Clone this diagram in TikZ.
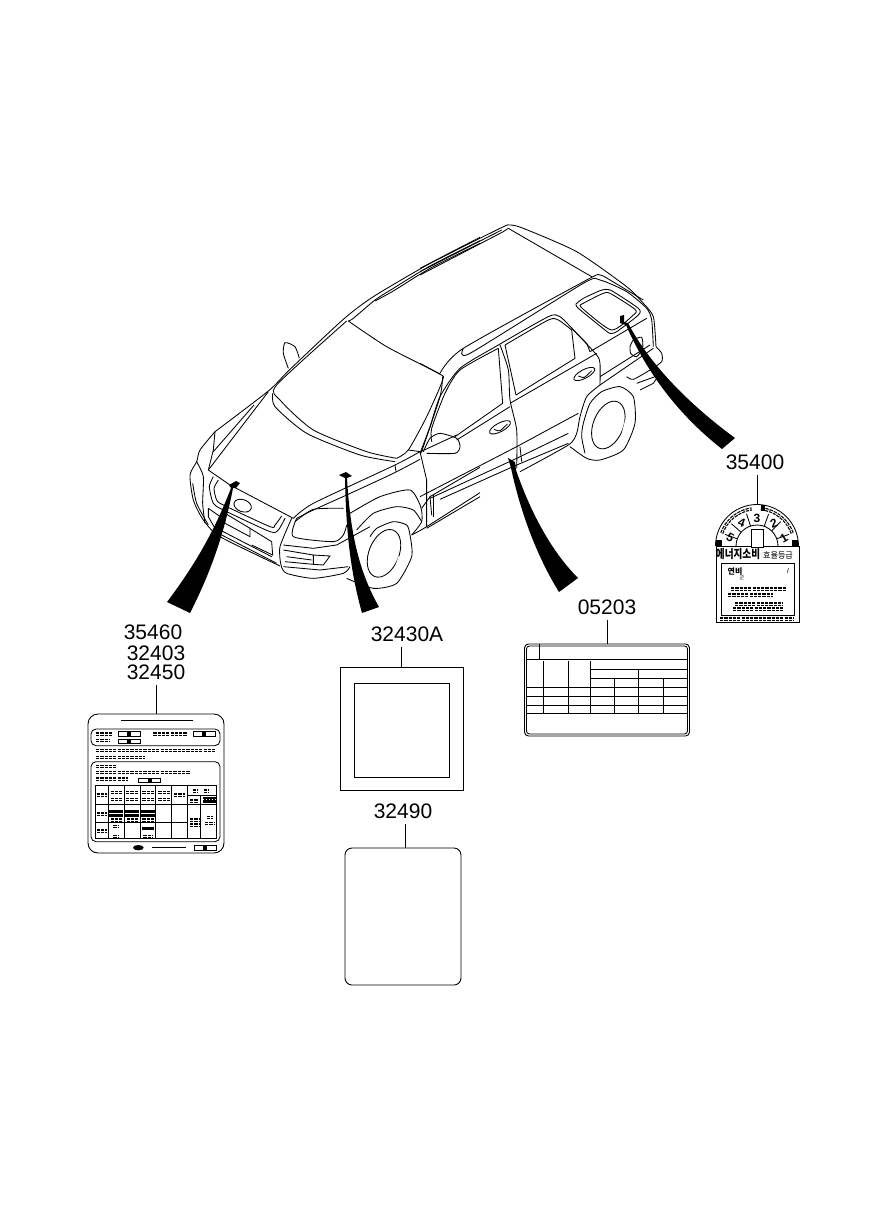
\documentclass[tikz,border=0pt]{standalone}
\usepackage{fontspec}
\setmainfont{Liberation Sans}
\newfontfamily\krfont{Noto Sans CJK KR}
\newcommand{\carline}[1]{\draw plot[smooth,tension=.4] coordinates {#1};}
\tikzset{
  partno/.style={font=\fontsize{21}{21}\selectfont,inner sep=5pt},
  tagbox/.style={draw,inner sep=0pt,line width=.9pt},
  blobs/.style={line width=1.2pt,double=white,double distance=.8pt,dash pattern=on 3.2pt off 1.1pt},
}
\begin{document}
\begin{tikzpicture}[x=1pt,y=-1pt,line width=.85pt]
    \useasboundingbox (0,0) rectangle (886,1211);

    % nodes
    \node[partno] (no35400) at (755,462) {35400};
    \node[partno] (no05203) at (607,607) {05203};
    \node[partno] (no35460) at (153,632) {35460};
    \node[partno] (no32403) at (156,653) {32403};
    \node[partno] (no32450) at (156,672) {32450};
    \node[partno] (no32430a) at (407,634) {32430A};
    \node[partno] (no32490) at (403,811) {32490};

    \node[tagbox,rounded corners=4pt,minimum width=165pt,minimum height=92pt] (tag05203) at (607,690) {};
    \node[draw,rounded corners=3pt,inner sep=0pt,minimum width=161pt,minimum height=88pt] (tag05203in) at (607,690) {};
    \node[tagbox,rounded corners=10pt,minimum width=136pt,minimum height=139pt] (tag32450) at (156,783.5) {};
    \node[tagbox,minimum width=123pt,minimum height=123pt] (tag32430a) at (401.5,728.5) {};
    \node[tagbox,minimum width=95pt,minimum height=94pt] (tag32430in) at (401.5,730) {};
    \node[tagbox,rounded corners=7pt,minimum width=116pt,minimum height=137pt] (tag32490) at (403,916.5) {};
    \coordinate (top35400) at (757,505);
    \coordinate (top32490) at (405,848);

    % edges
    \draw (no05203) -- (tag05203);
    \draw (no32450) -- (tag32450);
    \draw (no32430a.south -| tag32430a.north) -- (tag32430a);
    \draw (no32490.south -| top32490) -- (top32490);
    \draw (no35400.south -| top35400) -- (top35400);

    % front of the car
    \begin{scope}[shift={(180,220)},scale=1/3]
        \carline{(900,52)(750,130)(580,230)(490,298)(330,448)(265,513)(105,635)}
        \carline{(900,62)(750,138)(640,205)(585,240)(520,295)(505,303)}
        \carline{(900,70)(750,145)(640,213)(585,243)}
        % windscreen
        \carline{(505,303)(620,380)(775,460)(788,480)(740,590)(685,690)(650,715)}
        \carline{(500,303)(290,495)(300,540)(400,630)(560,695)(650,715)}
        \carline{(278,520)(285,560)(380,640)(540,705)(645,725)}
        \draw (685,690) -- (722,695);
        \draw (645,735) -- (648,755);
        % mirror
        \carline{(325,445)(310,400)(315,368)(345,380)(358,415)}
        % hood
        \draw (222,555) -- (100,695);
        \draw (265,515) -- (85,750);
        \draw (85,750) -- (150,795) -- (340,895);
        \carline{(340,895)(400,850)(645,735)(720,695)}
        \carline{(350,895)(400,870)(500,825)(640,760)(720,718)}
        % front corner
        \carline{(105,635)(60,690)(50,725)(30,765)(40,840)(70,900)(120,950)(300,1038)}
        \draw (105,635) -- (100,690) -- (85,750);
        \carline{(50,725)(70,770)(68,850)(75,910)}
        \carline{(38,790)(50,850)(85,915)}
        % grille
        \carline{(100,770)(88,800)(100,850)(130,870)(270,935)(295,930)(315,895)}
        \carline{(115,780)(102,805)(110,840)(130,855)(270,920)(285,915)(305,888)}
        \draw[rotate around={-20:(188,857)}] (188,857) ellipse (27 and 18);
        \draw (85,865) -- (85,890) -- (105,925);
        \draw (85,865) -- (135,900);
        \draw (135,880) -- (210,925) -- (210,950) -- (135,910) -- cycle;
        \draw (210,925) -- (275,965) -- (278,1005) -- (215,975);
        \draw (120,930) -- (275,1010);
        \draw (125,945) -- (290,1030);
        % headlight and bumper
        \carline{(350,895)(340,950)(460,965)(490,945)(500,915)}
        \carline{(345,905)(400,868)(490,865)}
        \carline{(335,895)(300,980)(303,1035)(320,1060)(400,1075)(490,1060)(510,1040)}
        \draw (310,975) -- (400,985) -- (470,975) -- (570,920);
        \draw (310,990) -- (400,1005) -- (450,1008) -- (430,1035) -- (400,1033) -- (400,1007);
        \draw (315,1025) -- (400,1033);
        \draw (320,1010) -- (395,1020);
        \draw (310,1040) -- (420,1050) -- (505,1040);
        % arch and front wheel
        \carline{(530,930)(580,880)(650,860)(700,870)(725,905)}
        \carline{(510,880)(600,830)(690,810)(722,860)(725,905)(695,945)}
        \carline{(500,1075)(580,1105)(650,1090)(695,1010)(690,945)(680,915)(640,905)(590,925)(570,950)}
        \draw[rotate around={-22:(612,1000)}] (612,1000) ellipse (45 and 75);
        \draw[white,line width=3pt] (650,1040) -- (660,1010);
        \carline{(695,945)(740,920)(900,818)}
        \carline{(740,925)(900,830)}
        \draw (720,695) -- (740,780) -- (740,920);
        \draw (725,865) -- (750,830) -- (755,885);
        \draw (750,830) -- (900,742);
        \draw (760,825) -- (760,890);
        \draw (722,695) -- (830,645);
    \end{scope}

    % back of the car
    \begin{scope}[shift={(420,220)},scale=1/3]
        \carline{(0,145)(240,25)(270,15)(310,25)(470,95)(620,200)(670,250)(700,290)(708,380)}
        \draw (0,155) -- (245,30);
        \draw (0,165) -- (250,35) -- (265,25) -- (515,170);
        % rail
        \carline{(60,460)(130,385)(500,180)(540,165)(570,180)(670,240)}
        \carline{(68,470)(60,530)(10,680)(2,700)}
        \carline{(130,385)(150,400)(490,190)(540,180)(620,215)(680,265)(695,300)(700,380)}
        \draw (0,430) -- (60,462);
        % door frame
        \carline{(0,700)(30,620)(60,530)(120,445)(235,375)(385,290)(420,290)(470,340)(530,405)(540,430)(540,495)}
        \carline{(35,665)(35,625)(75,520)(120,450)(235,385)}
        \draw (235,385) -- (248,550) -- (105,650);
        \carline{(255,375)(385,300)(415,300)(455,330)}
        \draw (255,375) -- (288,525);
        \draw (455,330) -- (465,415) -- (288,525);
        \draw (455,325) -- (500,370) -- (510,395);
        \draw (270,550) -- (530,400);
        \draw (110,660) -- (270,560);
        \carline{(240,375)(265,450)(270,540)(290,630)(290,745)}
        \draw (300,680) -- (305,725);
        \draw (510,395) -- (680,295);
        \draw (540,470) -- (690,375);
        % handles
        \draw[rotate around={28:(240,622)}] (240,622) ellipse (35 and 13);
        \draw[rotate around={28:(493,462)}] (493,462) ellipse (35 and 13);
        \carline{(222,628)(240,632)(262,612)}
        \carline{(475,468)(493,472)(515,452)}
        % mirror
        \carline{(10,695)(30,655)(60,640)(110,655)(120,680)(105,700)(20,700)}
        % rear glass
        \carline{(468,252)(490,235)(540,212)(560,208)(580,215)(655,265)(655,285)(590,335)(570,340)(555,330)(475,265)(468,252)}
        \carline{(480,255)(545,222)(570,220)(645,268)(640,285)(575,330)(490,268)(480,255)}
        \carline{(630,380)(640,360)(665,352)(668,385)(650,410)(632,400)(630,380)}
        % tail
        \carline{(708,380)(725,400)(725,425)(690,450)(640,478)(620,470)}
        \draw (700,385) -- (620,440) -- (540,495);
        \draw (650,490) -- (705,470);
        \draw (660,510) -- (700,490) -- (710,475);
        % sill and arch
        \carline{(540,495)(500,530)(480,590)(470,640)(445,675)(300,755)}
        \draw (0,830) -- (290,680) -- (475,580);
        \draw (30,835) -- (290,715) -- (445,640);
        \draw (60,838) -- (290,735) -- (445,670);
        % rear wheel
        \carline{(450,680)(500,715)(540,720)(610,690)(645,610)(640,530)(600,500)(545,515)(510,550)(490,610)(485,650)(495,700)}
        \draw[rotate around={-22:(565,615)}] (565,615) ellipse (45 and 75);
        \draw[white,line width=3pt] (610,640) -- (620,600);
    \end{scope}

    % pointers
    \fill (229,485) -- (236,481) -- (240,483) -- (236,488) -- (233,488) .. controls (225,530) and (212,570) .. (190,613) -- (167,602) .. controls (195,565) and (215,530) .. (231,488) -- cycle;
    \fill (339,475) -- (346,472) -- (352,476) -- (347,478) .. controls (350,530) and (358,570) .. (379,607) -- (362,613) .. controls (350,570) and (346,530) .. (345,478) -- cycle;
    \fill (508,458) -- (515,462) -- (516,470) .. controls (528,505) and (548,548) .. (578,578) -- (559,592) .. controls (536,555) and (520,510) .. (511,468) -- cycle;
    \fill (620,316) -- (624,315) -- (624,322) -- (628,323) .. controls (650,365) and (690,405) .. (735,438) -- (722,449) .. controls (685,420) and (650,380) .. (626,325) -- (620,323) -- cycle;

    % label 35400
    \draw[line width=.9pt] (716,546) rectangle (799,622);
    \begin{scope}[shift={(757,546)}]
        \draw (-41.5,0) arc[start angle=180,end angle=360,radius=41.5];
        \draw (-21,0) arc[start angle=180,end angle=360,radius=21];
        \foreach \a in {200,221,252,290,314,340}
            \draw (\a:21) -- (\a:34);
        \draw[blobs] (200:37.5) arc[start angle=200,end angle=262,radius=37.5];
        \draw[blobs] (276:37.5) arc[start angle=276,end angle=340,radius=37.5];
        \fill (-41,-6) rectangle (-35,0);
        \fill (35,-6) rectangle (41,0);
        \fill (4,-41) rectangle (8,-35);
        \foreach \a/\t/\r in {197/5/-30,237/4/-20,270/3/0,307/2/20,344/1/30}
            \node[inner sep=0pt,rotate=\r,font=\bfseries\fontsize{12}{12}\selectfont] (digit\t) at (\a:28) {\t};
        \draw[fill=white] (-6,-17) rectangle (6.5,1);
    \end{scope}
    \node[inner sep=0pt,xscale=.8,font=\krfont\bfseries\fontsize{12}{12}\selectfont] (krbig) at (738,554) {에너지소비};
    \node[inner sep=0pt,xscale=.95,font=\krfont\fontsize{8.5}{9}\selectfont] (krsmall) at (778,555) {효율등급};
    \draw (721,563) rectangle (794,615);
    \node[inner sep=0pt,font=\krfont\bfseries\fontsize{8}{8}\selectfont] (krfuel) at (735,571) {연비};
    \node[inner sep=0pt,font=\krfont\fontsize{5}{5}\selectfont] (krunit) at (742,578) {군};
    \node[inner sep=0pt,font=\itshape\fontsize{7}{7}\selectfont] (litre) at (788,571) {l};
    \draw[blobs] (731,589) -- (786,589);
    \draw[blobs] (728,595) -- (773,595);
    \draw[blobs] (735,604) -- (783,604);
    \draw[blobs] (733,609) -- (783,609);
    \draw[blobs] (720,619) -- (794,619);

    % label 05203
    \begin{scope}[shift={(515,635)},scale=1/3]
        \draw (35,73) -- (515,73);
        \draw (73,27) -- (73,73);
        \foreach \x in {85,160,227}
            \draw (\x,78) -- (\x,235);
        \foreach \y in {157,184,211,235}
            \draw (35,\y) -- (515,\y);
        \foreach \y in {103,130}
            \draw (227,\y) -- (515,\y);
        \foreach \x in {298,446}
            \draw (\x,130) -- (\x,235);
        \draw (371,103) -- (371,235);
    \end{scope}

    % label 32450
    \begin{scope}[shift={(80,705)},scale=1/3]
        \draw (122,47) -- (338,47);
        \draw[rounded corners=5pt] (33,72) rectangle (420,122);
        \draw[rounded corners=5pt] (33,170) rectangle (420,410);
        \foreach \x/\y in {115/80,340/80,115/102,175/219,342/422}
            \draw (\x,\y) rectangle ++(67,14);
        \foreach \x/\y in {148/87,372/87,148/109,210/226,375/429}
            \fill (\x-6,\y-7) rectangle (\x+6,\y+7);
        \foreach \xa/\xb/\y in {48/95/87,48/90/107,220/320/87,48/405/137,48/195/157,48/110/185,48/330/203,48/145/222}
            \draw[blobs] (\xa,\y) -- (\xb,\y);
        % table
        \draw (45,241) rectangle (410,400);
        \foreach \x in {85,133,180,227,275,323}
            \draw (\x,241) -- (\x,400);
        \draw (362,297) -- (362,400);
        \draw (45,297) -- (410,297);
        \draw (45,352) -- (323,352);
        \draw (323,272) -- (410,272);
        \draw (362,272) -- (362,297);
        \foreach \xa/\xb/\y in {50/80/270,92/128/262,138/175/262,187/222/262,235/270/262,92/128/283,138/175/283,187/222/283,235/270/283,282/315/270,338/355/258,372/385/258,330/355/288,50/80/327,50/80/378,92/125/345,140/175/345,187/222/345,100/118/365,100/118/395,190/220/395,330/358/345,330/358/360,380/400/338,375/405/355}
            \draw[blobs] (\xa,\y) -- (\xb,\y);
        \foreach \xa/\xb/\y in {88/130/314,135/178/314,183/224/314,88/130/328,135/178/328,183/224/328,187/222/367}
            \fill (\xa,\y) rectangle (\xb,\y+9);
        \fill (368,275) rectangle (408,294);
        \draw[white,dotted,line width=1pt] (368,282) -- (408,282);
        % foot
        \fill (175,428) ellipse (16 and 8);
        \draw (215,428) -- (318,428);
    \end{scope}
\end{tikzpicture}
\end{document}
